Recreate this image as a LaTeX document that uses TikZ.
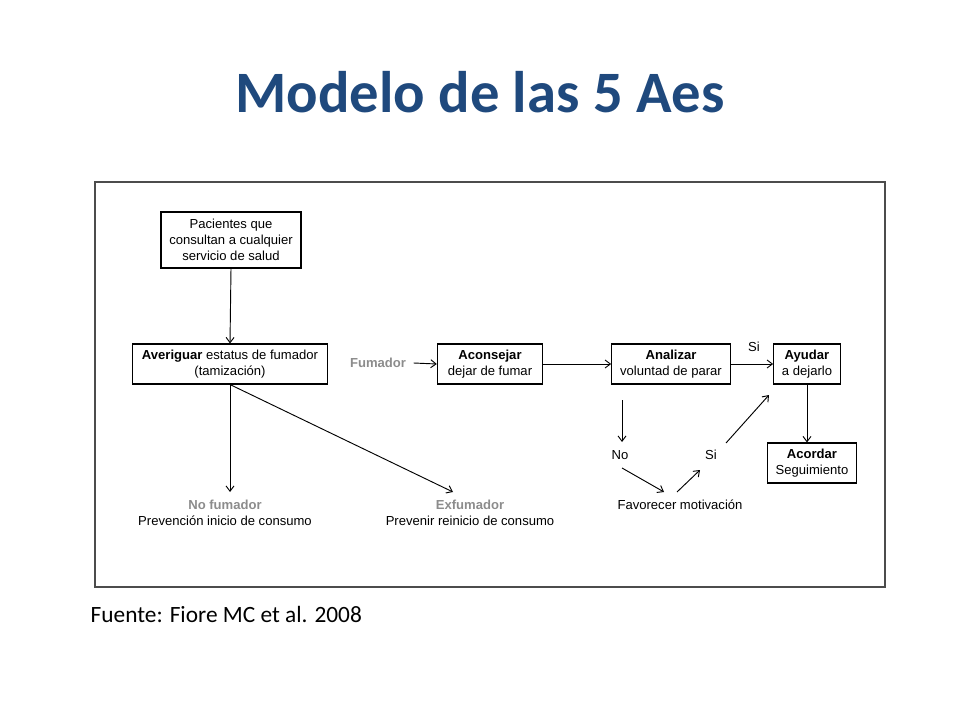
\documentclass[tikz,border=0pt]{standalone}
\usepackage{fontspec}
\setmainfont{Liberation Sans}
\newfontfamily\calib{Carlito}
\usetikzlibrary{arrows.meta}
\definecolor{titleblue}{HTML}{1F497D}
\definecolor{lbl}{HTML}{8C8C8C}
\begin{document}
\begin{tikzpicture}[x=0.75pt,y=-0.75pt,
  box/.style={draw,line width=0.8pt,minimum height=30pt,align=center,font=\fontsize{9.8}{12}\selectfont,inner sep=1pt},
  txt/.style={align=center,font=\fontsize{9.8}{12}\selectfont},
  arr/.style={-{Straight Barb[length=4pt,width=6pt]},line width=0.7pt}]
\path[use as bounding box] (0,0) rectangle (960,720);
\node[font=\calib\bfseries\fontsize{44}{48}\selectfont,text=titleblue] (title) at (480,92) {Modelo de las 5 Aes};
\draw[line width=1pt,draw=black!70] (95,182) rectangle (885,587);
\node[box,minimum width=105pt,minimum height=42pt] (pac) at (231,240) {Pacientes que\\consultan a cualquier\\servicio de salud};
\node[box,minimum width=146pt] (ave) at (230,364) {\textbf{Averiguar} estatus de fumador\\(tamización)};
\node[box,minimum width=79pt] (aco) at (490,364) {\textbf{Aconsejar}\\dejar de fumar};
\node[box,minimum width=89pt] (ana) at (671,364) {\textbf{Analizar}\\voluntad de parar};
\node[box,minimum width=50pt] (ayu) at (807,364) {\textbf{Ayudar}\\a dejarlo};
\node[box,minimum width=67pt] (acd) at (812,463) {\textbf{Acordar}\\Seguimiento};
\node[txt,text=lbl,font=\bfseries\fontsize{9.8}{12}\selectfont] (fum) at (378,363) {Fumador};
\node[txt] (nof) at (225,513) {{\color{lbl}\textbf{No fumador}}\\Prevención inicio de consumo};
\node[txt] (exf) at (470,513) {{\color{lbl}\textbf{Exfumador}}\\Prevenir reinicio de consumo};
\node[txt] (no) at (620,455) {No};
\node[txt] (si) at (711,455) {Si};
\node[txt] (si2) at (754,347) {Si};
\node[txt] (fav) at (680,505) {Favorecer motivación};
\coordinate (d1) at (622,400);
\coordinate (d2) at (622,442);
\coordinate (n1) at (622,468);
\coordinate (n2) at (664,492);
\coordinate (s1) at (677,492);
\coordinate (s2) at (700,470);
\coordinate (u1) at (726,443);
\coordinate (u2) at (769,395);
\coordinate (nf) at (230,492);
\coordinate (ef) at (453,492);
\draw[arr] (pac.south) -- (ave.north);
\draw[arr] (ave.south) -- (nf);
\draw[arr] (ave.south) -- (ef);
\draw[arr] (fum.east)++(3,0) -- (aco.west);
\draw[arr] (aco.east) -- (ana.west);
\draw[arr] (ana.east) -- (ayu.west);
\draw[arr] (ayu.south) -- (ayu.south |- acd.north);
\draw[arr] (d1) -- (d2);
\draw[arr] (n1) -- (n2);
\draw[arr] (s1) -- (s2);
\draw[arr] (u1) -- (u2);
\node[anchor=west,font=\calib\fontsize{17.5}{20}\selectfont] (src) at (86,614) {Fuente: Fiore MC et al. 2008};
\end{tikzpicture}
\end{document}
